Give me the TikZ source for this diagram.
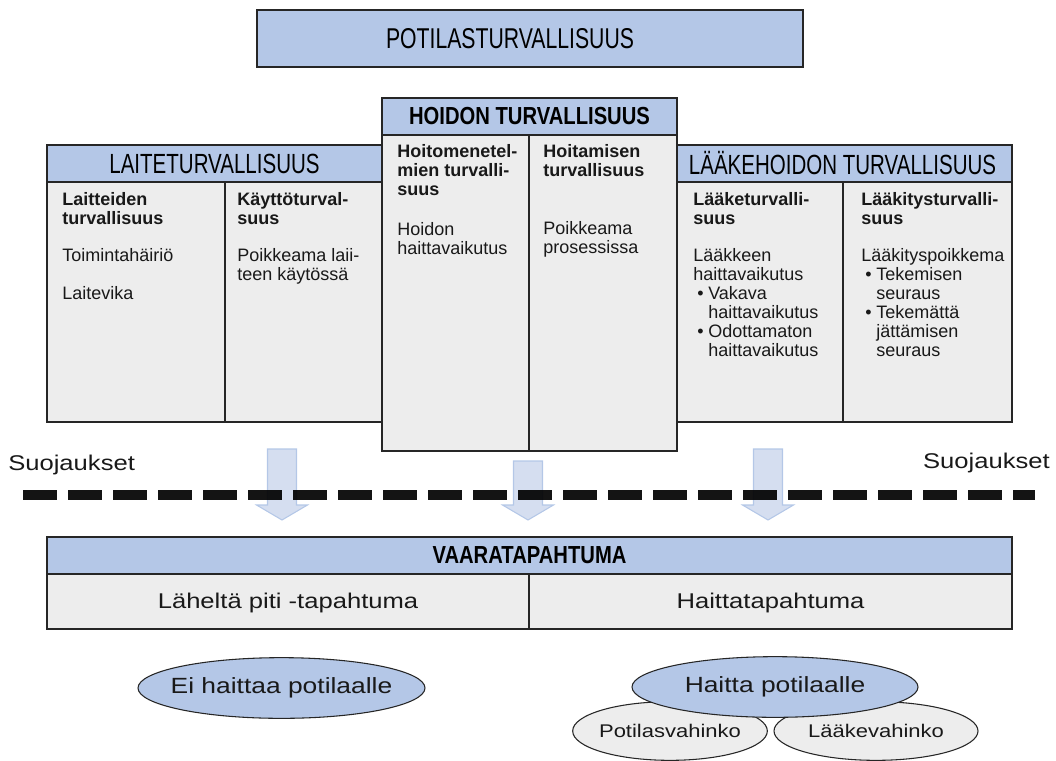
\documentclass[tikz,border=0pt]{standalone}
\usepackage{fontspec}
\setmainfont{Liberation Sans}
\newfontfamily\narrowf[FakeStretch=0.74]{Liberation Sans}
\newfontfamily\narrowb[FakeStretch=0.82]{Liberation Sans}
\newfontfamily\widef[FakeStretch=1.2]{Liberation Sans}
\usetikzlibrary{shapes.geometric,fit}
\definecolor{hblue}{RGB}{180,199,231}
\definecolor{cgrey}{RGB}{237,237,237}
\definecolor{arfill}{RGB}{213,222,240}
\definecolor{ardraw}{RGB}{180,199,231}
\definecolor{txt}{RGB}{25,25,25}
\newcommand\mybul{\makebox[11.25pt][l]{\hspace{3pt}•}}
\newcommand\myind{\hspace*{11.25pt}}
\begin{document}
\begin{tikzpicture}[x=0.75pt,y=-0.75pt,
  box/.style={draw=black!85, line width=1.1pt, inner sep=0pt, outer sep=0pt},
  hdr/.style={box, fill=hblue},
  col/.style={box, fill=cgrey},
  hdrtxt/.style={inner sep=0pt, text=black, font=\narrowf\fontsize{20.8}{22}\selectfont},
  hdrbold/.style={inner sep=0pt, text=black, font=\narrowb\bfseries\fontsize{18.5}{20}\selectfont},
  body/.style={anchor=north west, inner sep=0pt, align=left, text=txt, font=\fontsize{13.5}{14.2}\selectfont},
  blockarrow/.style={fill=arfill, draw=ardraw, line width=0.8pt},
  oval/.style={ellipse, draw=black!85, line width=0.8pt, inner sep=0pt, outer sep=0pt},
  ovaltxt/.style={inner sep=0pt, font=\widef\fontsize{16.5}{18}\selectfont, text=txt},
  smalltxt/.style={inner sep=0pt, font=\widef\fontsize{13.75}{15}\selectfont, text=txt}
]
\useasboundingbox (0,0) rectangle (1056,760);

% Top box
\node[hdr, fit={(257,10) (803,67)}] (top) {};
\node[inner sep=0pt, font=\narrowf\fontsize{21.5}{23}\selectfont] (toptxt) at ([xshift=-15pt]top.center) {POTILASTURVALLISUUS};

% Laiteturvallisuus
\node[hdr, fit={(47,145) (382,182)}] (lh) {};
\node[hdrtxt] (lhtxt) at (lh.center) {LAITETURVALLISUUS};
\node[col, fit={(47,182) (225,422)}] (lc1) {};
\node[col, fit={(225,182) (382,422)}] (lc2) {};
\node[body] (lt1) at (62,192) {\textbf{Laitteiden}\\\textbf{turvallisuus}\\[14pt]Toimintahäiriö\\[14pt]Laitevika};
\node[body] (lt2) at (237,192) {\textbf{Käyttöturval-}\\\textbf{suus}\\[14pt]Poikkeama laii-\\teen käytössä};

% Lääkehoidon turvallisuus
\node[hdr, fit={(677,145) (1012,182)}] (rh) {};
\node[hdrtxt] (rhtxt) at ([xshift=-1.5pt]rh.center) {LÄÄKEHOIDON TURVALLISUUS};
\node[col, fit={(677,182) (843,422)}] (rc1) {};
\node[col, fit={(843,182) (1012,422)}] (rc2) {};
\node[body] (rt1) at (693,192) {\textbf{Lääketurvalli-}\\\textbf{suus}\\[14pt]Lääkkeen\\haittavaikutus\\\mybul Vakava\\\myind haittavaikutus\\\mybul Odottamaton\\\myind haittavaikutus};
\node[body] (rt2) at (861,192) {\textbf{Lääkitysturvalli-}\\\textbf{suus}\\[14pt]Lääkityspoikkema\\\mybul Tekemisen\\\myind seuraus\\\mybul Tekemättä\\\myind jättämisen\\\myind seuraus};

% Hoidon turvallisuus
\node[hdr, fit={(382,98) (677,135)}] (mh) {};
\node[hdrbold] (mhtxt) at (mh.center) {HOIDON TURVALLISUUS};
\node[col, fit={(382,135) (529,451)}] (mc1) {};
\node[col, fit={(529,135) (677,451)}] (mc2) {};
\node[body] (mt1) at (397,144) {\textbf{Hoitomenetel-}\\\textbf{mien turvalli-}\\\textbf{suus}\\[16pt]Hoidon\\haittavaikutus};
\node[body] (mt2) at (543,144) {\textbf{Hoitamisen}\\\textbf{turvallisuus}\\[29.5pt]Poikkeama\\prosessissa};

% Suojaukset
\node[anchor=base west, inner sep=0pt, text=txt, font=\widef\fontsize{16}{18}\selectfont] (sl) at (8,470) {Suojaukset};
\node[anchor=base east, inner sep=0pt, text=txt, font=\widef\fontsize{16}{18}\selectfont] (sr) at (1050,468) {Suojaukset};

% Block arrows
\foreach \cx/\ty in {282/449, 528/461, 768/449}{
  \draw[blockarrow] (\cx-14.5,\ty) -- (\cx+14.5,\ty) -- (\cx+14.5,505) -- (\cx+25.5,505)
    -- (\cx,520) -- (\cx-25.5,505) -- (\cx-14.5,505) -- cycle;
}

% Dashed line
\coordinate (dl) at (23,495);
\coordinate (dr) at (1035,495);
\draw[line width=7.5pt, dash pattern=on 25.5pt off 8.25pt, draw opacity=0.92] (dl) -- (dr);

% Vaaratapahtuma
\node[hdr, fit={(47,537) (1012,574)}] (vh) {};
\node[hdrbold] (vhtxt) at (vh.center) {VAARATAPAHTUMA};
\node[col, fit={(47,574) (529,629)}] (vc1) {};
\node[col, fit={(529,574) (1012,629)}] (vc2) {};
\node[inner sep=0pt, text=txt, font=\widef\fontsize{16}{18}\selectfont] (vt1) at ([yshift=-1pt]vc1.center) {Läheltä piti -tapahtuma};
\node[inner sep=0pt, text=txt, font=\widef\fontsize{16}{18}\selectfont] (vt2) at ([yshift=-1pt]vc2.center) {Haittatapahtuma};

% Ellipses
\node[oval, fill=hblue, minimum width=215.25pt, minimum height=45.5pt] (e1) at (281.5,688) {};
\node[ovaltxt] (e1t) at (e1.center) {Ei haittaa potilaalle};
\node[oval, fill=cgrey, minimum width=146pt, minimum height=44pt] (e3) at (670,731) {};
\node[smalltxt] (e3t) at (e3.center) {Potilasvahinko};
\node[oval, fill=cgrey, minimum width=153pt, minimum height=44pt] (e4) at (876,731) {};
\node[smalltxt] (e4t) at (e4.center) {Lääkevahinko};
\node[oval, fill=hblue, minimum width=214.5pt, minimum height=45.5pt] (e2) at (775,687) {};
\node[ovaltxt] (e2t) at (e2.center) {Haitta potilaalle};
\end{tikzpicture}
\end{document}
